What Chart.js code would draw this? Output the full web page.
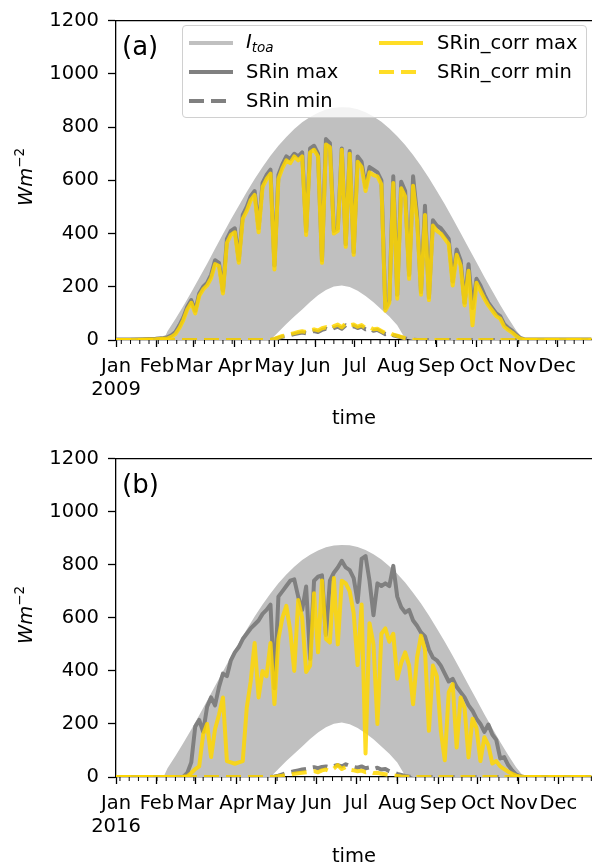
<!DOCTYPE html>
<html>
<head>
<meta charset="utf-8">
<script src="https://cdn.jsdelivr.net/npm/chart.js@4.4.0/dist/chart.umd.min.js"></script>
<style>
  body { margin: 0; background: #fff; font-family: 'DejaVu Sans', sans-serif; overflow: hidden; }
  .panel { position: absolute; left: 0; width: 592px; }
  .panel canvas { position: absolute; left: 0; top: 0; }
  .tag { position: absolute; left: 122px; top: 33px; font-size: 26px; line-height: 1; }
  .xlab { position: absolute; left: 116px; width: 476px; top: 406px; text-align: center; font-size: 19.5px; line-height: 24px; }
  .ylab { position: absolute; left: -24px; top: 165px; width: 100px; height: 24px; line-height: 24px; text-align: center;
          font-size: 19.5px; transform: rotate(-90deg); white-space: nowrap; }
  .ylab sup { font-size: 13.5px; vertical-align: 8px; line-height: 0; }
  .legend { position: absolute; left: 182px; top: 25px; width: 405px; height: 93px; box-sizing: border-box;
            border: 1px solid #d0d0d0; border-radius: 4px; background: rgba(255,255,255,0.8); font-size: 19.5px; }
  .legend .item { position: absolute; height: 24px; line-height: 24px; white-space: nowrap; }
  .legend svg { position: absolute; }
  .legend sub { font-size: 13.5px; vertical-align: -4px; line-height: 0; }
</style>
</head>
<body>
<div class="panel" style="top:0;height:438px">
  <canvas id="c1" width="592" height="438"></canvas>
  <div class="tag">(a)</div>
  <div class="xlab">time</div>
  <div class="ylab"><i>Wm</i><sup>−2</sup></div>
  <div class="legend">
    <svg width="44" height="10" style="left:6px;top:12px"><line x1="0" y1="5" x2="44" y2="5" stroke="#c0c0c0" stroke-width="4"/></svg>
    <div class="item" style="left:63px;top:4px"><i>I</i><sub><i>toa</i></sub></div>
    <svg width="44" height="10" style="left:6px;top:41px"><line x1="0" y1="5" x2="44" y2="5" stroke="#808080" stroke-width="4"/></svg>
    <div class="item" style="left:63px;top:34px">SRin max</div>
    <svg width="44" height="10" style="left:6px;top:70px"><line x1="0" y1="5" x2="44" y2="5" stroke="#808080" stroke-width="4" stroke-dasharray="15 7"/></svg>
    <div class="item" style="left:63px;top:63px">SRin min</div>
    <svg width="44" height="10" style="left:196px;top:12px"><line x1="0" y1="5" x2="44" y2="5" stroke="rgba(255,215,0,0.85)" stroke-width="4"/></svg>
    <div class="item" style="left:254px;top:5px">SRin_corr max</div>
    <svg width="44" height="10" style="left:196px;top:41px"><line x1="0" y1="5" x2="44" y2="5" stroke="rgba(255,215,0,0.85)" stroke-width="4" stroke-dasharray="15 7"/></svg>
    <div class="item" style="left:254px;top:34px">SRin_corr min</div>
  </div>
</div>
<div class="panel" style="top:438px;height:429px">
  <canvas id="c2" width="592" height="429"></canvas>
  <div class="tag">(b)</div>
  <div class="xlab">time</div>
  <div class="ylab"><i>Wm</i><sup>−2</sup></div>
</div>
<script>
// day of year for the SRin series
const days = [0, 10, 20, 30, 36,
  39, 42, 45, 48, 51, 54, 57, 60, 63, 66, 69, 72, 75, 78, 81, 84, 87, 90, 93, 96, 99,
  102, 105, 108, 111, 114, 117, 120, 123, 126, 129, 132, 135, 138, 141, 144, 147, 150,
  153, 156, 159, 162, 165, 168, 171, 174, 177, 180, 183, 186, 189, 192, 195, 198, 201,
  204, 207, 210, 213, 216, 219, 222, 225, 228, 231, 234, 237, 240, 243, 246, 249, 252,
  255, 258, 261, 264, 267, 270, 273, 276, 279, 282, 285, 288, 291, 294, 297, 300, 303,
  306, 309, 315, 330, 345, 360];

// top of atmosphere envelope (daily max / min)
const envDays = [0, 36, 39, 45, 51, 57, 63, 69, 75, 81, 87, 93, 99, 105, 111, 117, 123, 129,
  135, 141, 147, 153, 159, 165, 171, 177, 183, 189, 195, 201, 207, 213, 219, 225, 231, 237,
  243, 249, 255, 261, 267, 273, 279, 285, 291, 297, 303, 309, 365];
const itoaMax = [0, 0, 33, 79, 128, 179, 233, 287, 343, 398, 453, 505, 556, 605, 650, 692, 730, 763,
  793, 818, 838, 854, 866, 873, 875, 874, 867, 856, 840, 820, 795, 766, 733, 695, 654, 609,
  560, 510, 457, 402, 347, 292, 237, 184, 132, 83, 37, 0, 0];
const itoaMin = [0, 0, 0, 0, 0, 0, 0, 0, 0, 0, 0, 0, 0, 0, 0, 0, 30, 60,
  88, 115, 143, 168, 188, 201, 205, 199, 185, 165, 142, 115, 88, 55, 5, 0, 0, 0,
  0, 0, 0, 0, 0, 0, 0, 0, 0, 0, 0, 0, 0];

// 2009
const srinMax2009 = [
  2, 2, 3, 5, 8, 10, 18, 30, 55, 85,
  125, 150, 110, 175, 200, 215, 245, 300, 290, 185,
  380, 410, 420, 300, 470, 500, 540, 560, 420, 590,
  620, 640, 280, 620, 660, 690, 680, 700, 690, 705,
  410, 720, 730, 700, 300, 755, 740, 410, 420, 720,
  360, 710, 330, 690, 670, 575, 650, 640, 630, 600,
  120, 150, 615, 170, 595, 560, 245, 615, 470, 180,
  505, 160, 450, 430, 420, 400, 380, 220, 340, 300,
  140, 285, 120, 230, 205, 170, 140, 120, 100, 90,
  60, 45, 35, 20, 8, 3, 2, 2, 2, 2];
const srinMin2009 = [
  0, 0, 0, 0, 0, 0, 0, 0, 0, 0,
  0, 0, 0, 0, 0, 0, 0, 0, 0, 0,
  0, 0, 0, 0, 0, 0, 0, 0, 0, 0,
  0, 0, 3, 8, 12, 15, 18, 22, 25, 28,
  25, 30, 34, 30, 38, 42, 36, 45, 50, 42,
  55, 48, 52, 45, 50, 40, 44, 35, 38, 30,
  22, 25, 18, 14, 10, 6, 3, 1, 0, 0,
  0, 0, 0, 0, 0, 0, 0, 0, 0, 0,
  0, 0, 0, 0, 0, 0, 0, 0, 0, 0,
  0, 0, 0, 0, 0, 0, 0, 0, 0, 0];
const corrMax2009 = [
  0, 0, 1, 3, 5, 5, 12, 22, 45, 75,
  115, 140, 100, 165, 190, 205, 232, 285, 278, 175,
  365, 395, 405, 290, 455, 485, 525, 545, 405, 575,
  605, 625, 265, 605, 645, 675, 665, 690, 675, 690,
  395, 705, 715, 690, 290, 735, 725, 400, 410, 715,
  350, 700, 320, 670, 650, 560, 630, 620, 615, 585,
  110, 140, 590, 155, 570, 540, 230, 580, 450, 170,
  470, 150, 430, 410, 400, 380, 360, 205, 320, 280,
  130, 260, 55, 215, 185, 155, 130, 110, 90, 80,
  50, 38, 28, 15, 5, 2, 1, 1, 1, 1];
const corrMin2009 = [
  0, 0, 0, 0, 0, 0, 0, 0, 0, 0,
  0, 0, 0, 0, 0, 0, 0, 0, 0, 0,
  0, 0, 0, 0, 0, 0, 0, 0, 0, 0,
  0, 0, 4, 10, 15, 18, 22, 26, 30, 33,
  30, 36, 40, 36, 44, 48, 42, 52, 58, 48,
  62, 55, 58, 50, 56, 45, 48, 40, 42, 34,
  26, 28, 20, 16, 12, 7, 3, 1, 0, 0,
  0, 0, 0, 0, 0, 0, 0, 0, 0, 0,
  0, 0, 0, 0, 0, 0, 0, 0, 0, 0,
  0, 0, 0, 0, 0, 0, 0, 0, 0, 0];

// 2016
const srinMax2016 = [
  0, 0, 0, 0, 0, 0, 0, 0, 0, 1,
  15, 55, 190, 215, 170, 265, 300, 270, 340, 390,
  380, 440, 470, 490, 520, 540, 560, 575, 590, 615,
  630, 650, 335, 680, 700, 720, 740, 745, 680, 630,
  718, 445, 740, 755, 760, 535, 740, 770, 790, 815,
  790, 780, 750, 660, 822, 833, 740, 610, 730, 720,
  730, 720, 796, 680, 640, 620, 630, 590, 570, 545,
  530, 480, 450, 440, 420, 390, 360, 370, 340, 320,
  300, 270, 250, 220, 200, 170, 198, 160, 140, 70,
  75, 45, 25, 10, 3, 0, 0, 0, 0, 0];
const srinMin2016 = [
  0, 0, 0, 0, 0, 0, 0, 0, 0, 0,
  0, 0, 0, 0, 0, 0, 0, 0, 0, 0,
  0, 0, 0, 0, 0, 0, 0, 0, 0, 0,
  0, 0, 2, 5, 10, 15, 18, 22, 25, 28,
  30, 35, 37, 33, 38, 40, 36, 42, 45, 40,
  48, 42, 38, 35, 40, 33, 36, 30, 35, 28,
  30, 22, 18, 12, 8, 4, 1, 0, 0, 0,
  0, 0, 0, 0, 0, 0, 0, 0, 0, 0,
  0, 0, 0, 0, 0, 0, 0, 0, 0, 0,
  0, 0, 0, 0, 0, 0, 0, 0, 0, 0];
const corrMax2016 = [
  0, 0, 0, 0, 0, 0, 0, 0, 0, 1,
  3, 15, 30, 40, 160, 200, 75, 180, 235, 300,
  60, 55, 50, 55, 60, 260, 360, 505, 300, 400,
  380, 505, 275, 520, 600, 645, 550, 400, 667, 600,
  396, 420, 693, 470, 741, 520, 507, 750, 500, 740,
  730, 700, 618, 422, 650, 89, 580, 500, 200, 540,
  560, 510, 540, 370, 430, 470, 420, 274, 450, 533,
  480, 174, 420, 380, 174, 63, 320, 350, 111, 300,
  260, 74, 220, 185, 60, 150, 120, 51, 60, 40,
  30, 20, 12, 5, 2, 0, 0, 0, 0, 0];
const corrMin2016 = [
  0, 0, 0, 0, 0, 0, 0, 0, 0, 0,
  0, 0, 0, 0, 0, 0, 0, 0, 0, 0,
  0, 0, 0, 0, 0, 0, 0, 0, 0, 0,
  0, 0, 0, 3, 5, 8, 10, 12, 14, 16,
  18, 20, 22, 18, 25, 28, 22, 32, 45, 30,
  38, 28, 25, 22, 24, 18, 20, 15, 16, 12,
  10, 8, 6, 4, 2, 1, 0, 0, 0, 0,
  0, 0, 0, 0, 0, 0, 0, 0, 0, 0,
  0, 0, 0, 0, 0, 0, 0, 0, 0, 0,
  0, 0, 0, 0, 0, 0, 0, 0, 0, 0];

// axis ticks
const monthNames = ['Jan', 'Feb', 'Mar', 'Apr', 'May', 'Jun', 'Jul', 'Aug', 'Sep', 'Oct', 'Nov', 'Dec'];
const monthStarts2009 = [0, 31, 59, 90, 120, 151, 181, 212, 243, 273, 304, 334];
const monthStarts2016 = [0, 31, 60, 91, 121, 152, 182, 213, 244, 274, 305, 335];
const yTicks = [0, 200, 400, 600, 800, 1000, 1200];

const GOLD = 'rgba(255,215,0,0.85)';
const GRAY = '#808080';
const FONT = { family: 'DejaVu Sans', size: 19.5 };

const toPts = (xs, ys) => xs.map((d, i) => ({ x: d, y: ys[i] }));

// top spine + weekly minor ticks
const framePlugin = {
  id: 'frame',
  afterDraw(chart, args, opts) {
    const { ctx, chartArea: a } = chart;
    const x = chart.scales.x;
    ctx.save();
    ctx.strokeStyle = '#000';
    ctx.lineWidth = 1.3;
    ctx.beginPath();
    ctx.moveTo(a.left - 0.6, a.top);
    ctx.lineTo(a.right + 1, a.top);
    ctx.stroke();
    ctx.lineWidth = 1;
    for (let d = opts.firstMonday; d < 366; d += 7) {
      const px = x.getPixelForValue(d);
      if (px < a.left || px > a.right) continue;
      ctx.beginPath();
      ctx.moveTo(px, a.bottom);
      ctx.lineTo(px, a.bottom + 4);
      ctx.stroke();
    }
    ctx.restore();
  }
};

function makeChart(id, year, monthStarts, firstMonday, maxArr, minArr, cMaxArr, cMinArr, xHeight) {
  const line = (label, data, color, dash, order) => ({
    label, data, borderColor: color, borderWidth: 4, borderDash: dash,
    borderJoinStyle: 'round', pointRadius: 0, fill: false, tension: 0, order
  });
  return new Chart(document.getElementById(id), {
    type: 'line',
    data: {
      datasets: [
        { label: 'Itoa max', data: toPts(envDays, itoaMax), borderColor: 'rgba(0,0,0,0)', borderWidth: 1,
          pointRadius: 0, fill: 1, backgroundColor: '#c0c0c0', order: 6 },
        { label: 'Itoa min', data: toPts(envDays, itoaMin), borderColor: 'rgba(0,0,0,0)', borderWidth: 1,
          pointRadius: 0, fill: false, order: 7 },
        line('SRin max', toPts(days, maxArr), GRAY, [], 4),
        line('SRin min', toPts(days, minArr), GRAY, [15, 7], 3),
        line('SRin_corr max', toPts(days, cMaxArr), GOLD, [], 2),
        line('SRin_corr min', toPts(days, cMinArr), GOLD, [15, 7], 1)
      ]
    },
    options: {
      responsive: false,
      animation: false,
      devicePixelRatio: 1,
      layout: { padding: { top: 15, left: 0, right: 0, bottom: 0 } },
      plugins: { legend: { display: false }, tooltip: { enabled: false }, frame: { firstMonday } },
      scales: {
        x: {
          type: 'linear', min: 0, max: 360.5,
          afterBuildTicks: s => { s.ticks = monthStarts.map(v => ({ value: v })); },
          afterFit: s => { s.height = xHeight; },
          ticks: {
            autoSkip: false, maxRotation: 0, color: '#000', font: FONT, padding: 8,
            callback: (v, i) => i === 0 ? [monthNames[0], String(year)] : monthNames[i]
          },
          grid: { drawOnChartArea: false, tickLength: 7, tickColor: '#000', tickWidth: 1.3 },
          border: { color: '#000', width: 1.3 }
        },
        y: {
          min: 0, max: 1200,
          afterBuildTicks: s => { s.ticks = yTicks.map(v => ({ value: v })); },
          afterFit: s => { s.width = 116; },
          ticks: { color: '#000', font: FONT, padding: 9, callback: v => String(v) },
          grid: { drawOnChartArea: false, tickLength: 8, tickColor: '#000', tickWidth: 1.3 },
          border: { color: '#000', width: 1.3 }
        }
      }
    },
    plugins: [framePlugin]
  });
}

makeChart('c1', 2009, monthStarts2009, 4, srinMax2009, srinMin2009, corrMax2009, corrMin2009, 98);
makeChart('c2', 2016, monthStarts2016, 3, srinMax2016, srinMin2016, corrMax2016, corrMin2016, 90);
</script>
</body>
</html>
